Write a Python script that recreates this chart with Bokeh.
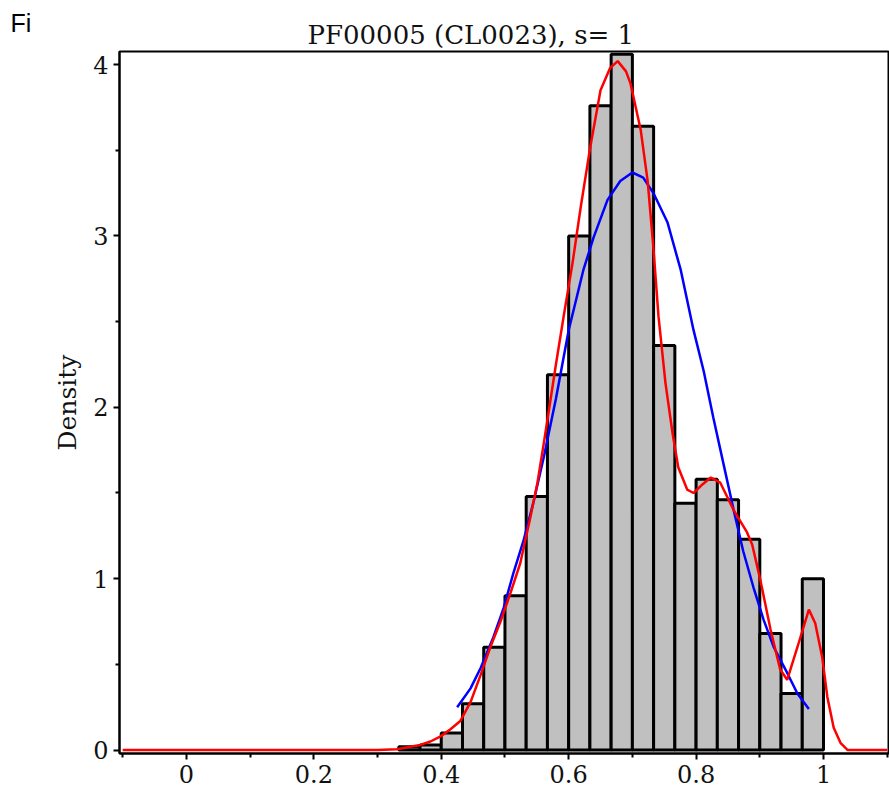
from bokeh.plotting import figure
from bokeh.models import Range1d, FixedTicker, Title
from bokeh.embed import file_html
from bokeh.resources import INLINE

# ---- data ----
title_text = "PF00005 (CL0023), s= 1"
y_label = "Density"
corner_text = "Fi"

bin_edges = [1/3 + i/30 for i in range(21)]
bin_heights = [0.02, 0.03, 0.10, 0.27, 0.60, 0.90, 1.48, 2.19, 3.00, 3.76,
               4.06, 3.64, 2.36, 1.44, 1.58, 1.46, 1.23, 0.68, 0.33, 1.00]

red_x = [-0.10, 0.30, 0.33, 0.367, 0.383, 0.399, 0.414, 0.430, 0.446, 0.462,
         0.477, 0.493, 0.509, 0.524, 0.540, 0.551, 0.561, 0.580, 0.593, 0.606,
         0.619, 0.634, 0.650, 0.665, 0.677, 0.690, 0.697, 0.713, 0.724, 0.733,
         0.741, 0.752, 0.763, 0.772, 0.786, 0.796, 0.810, 0.823, 0.838, 0.859,
         0.880, 0.888, 0.901, 0.917, 0.932, 0.943, 0.959, 0.977, 0.987, 0.998,
         1.006, 1.016, 1.027, 1.038, 1.10]
red_y = [0.0, 0.0, 0.005, 0.03, 0.05, 0.08, 0.12, 0.17, 0.28, 0.44,
         0.60, 0.75, 0.92, 1.09, 1.36, 1.56, 1.79, 2.25, 2.55, 2.84,
         3.17, 3.52, 3.85, 3.98, 4.02, 3.96, 3.89, 3.62, 3.32, 2.93,
         2.53, 2.14, 1.85, 1.65, 1.52, 1.50, 1.55, 1.59, 1.56, 1.40,
         1.27, 1.20, 0.99, 0.70, 0.47, 0.41, 0.60, 0.82, 0.74, 0.54,
         0.31, 0.13, 0.04, 0.0, 0.0]

blue_x = [0.425, 0.446, 0.462, 0.482, 0.498, 0.513, 0.529, 0.545, 0.561, 0.580,
          0.600, 0.623, 0.639, 0.661, 0.681, 0.700, 0.717, 0.733, 0.755, 0.776,
          0.796, 0.812, 0.827, 0.843, 0.859, 0.874, 0.890, 0.906, 0.922, 0.943,
          0.959, 0.977]
blue_y = [0.25, 0.36, 0.48, 0.66, 0.83, 1.03, 1.22, 1.45, 1.71, 2.05,
          2.45, 2.80, 2.99, 3.21, 3.32, 3.37, 3.34, 3.25, 3.08, 2.80,
          2.45, 2.21, 1.94, 1.67, 1.40, 1.16, 0.95, 0.76, 0.60, 0.45,
          0.33, 0.24]

x_ticks = [0, 0.2, 0.4, 0.6, 0.8, 1.0]
x_tick_labels = ["0", "0.2", "0.4", "0.6", "0.8", "1"]
x_minor = [-0.1, 0.1, 0.3, 0.5, 0.7, 0.9, 1.1]
y_ticks = [0, 1, 2, 3, 4]
y_minor = [0.5, 1.5, 2.5, 3.5]

SERIF = "DejaVu Serif"

p = figure(width=889, height=798, output_backend="svg", toolbar_location=None,
           x_range=Range1d(-0.105, 1.102), y_range=Range1d(-0.020, 4.076))
p.min_border_left = 119
p.min_border_right = 1
p.min_border_top = 51
p.min_border_bottom = 45
p.xgrid.visible = False
p.ygrid.visible = False
p.outline_line_color = "black"
p.outline_line_width = 2
p.background_fill_color = "white"
p.border_fill_color = "white"

# outermost title: the cut-off corner text
p.title.text = corner_text
p.title.align = "left"
p.title.offset = -109
p.title.standoff = -40
p.title.text_font = "Liberation Sans"
p.title.text_font_size = "25px"
p.title.text_font_style = "normal"
p.title.text_color = "black"

# chart title, next to the frame
main_title = Title(text=title_text, align="left", offset=188, standoff=3,
                   text_font=SERIF, text_font_size="26px",
                   text_font_style="normal", text_color="#111111")
p.add_layout(main_title, "above")

p.xaxis.ticker = FixedTicker(ticks=x_ticks, minor_ticks=x_minor)
p.xaxis.major_label_overrides = {t: l for t, l in zip(x_ticks, x_tick_labels)}
p.yaxis.ticker = FixedTicker(ticks=y_ticks, minor_ticks=y_minor)
p.yaxis.major_label_overrides = {t: str(t) for t in y_ticks}
p.yaxis.axis_label = y_label
p.yaxis.axis_label_text_font = SERIF
p.yaxis.axis_label_text_font_size = "25px"
p.yaxis.axis_label_text_font_style = "normal"
p.yaxis.axis_label_text_color = "#111111"
p.yaxis.axis_label_standoff = 8

for ax in (p.xaxis[0], p.yaxis[0]):
    ax.axis_line_color = "black"
    ax.axis_line_width = 2
    ax.major_tick_line_color = "black"
    ax.major_tick_line_width = 2
    ax.minor_tick_line_color = "black"
    ax.minor_tick_line_width = 2
    ax.major_tick_in = 0
    ax.major_tick_out = 6
    ax.minor_tick_in = 0
    ax.minor_tick_out = 4
    ax.major_label_text_font = SERIF
    ax.major_label_text_font_size = "24px"
    ax.major_label_text_color = "#111111"
    ax.major_label_standoff = 5

p.quad(left=bin_edges[:-1], right=bin_edges[1:], top=bin_heights, bottom=0,
       fill_color="#C0C0C0", line_color="black", line_width=3)

p.line(blue_x, blue_y, line_color="#0000FF", line_width=2.5)
p.line(red_x, red_y, line_color="#FF0000", line_width=2.5)

open("out.html", "w").write(file_html(p, INLINE))
